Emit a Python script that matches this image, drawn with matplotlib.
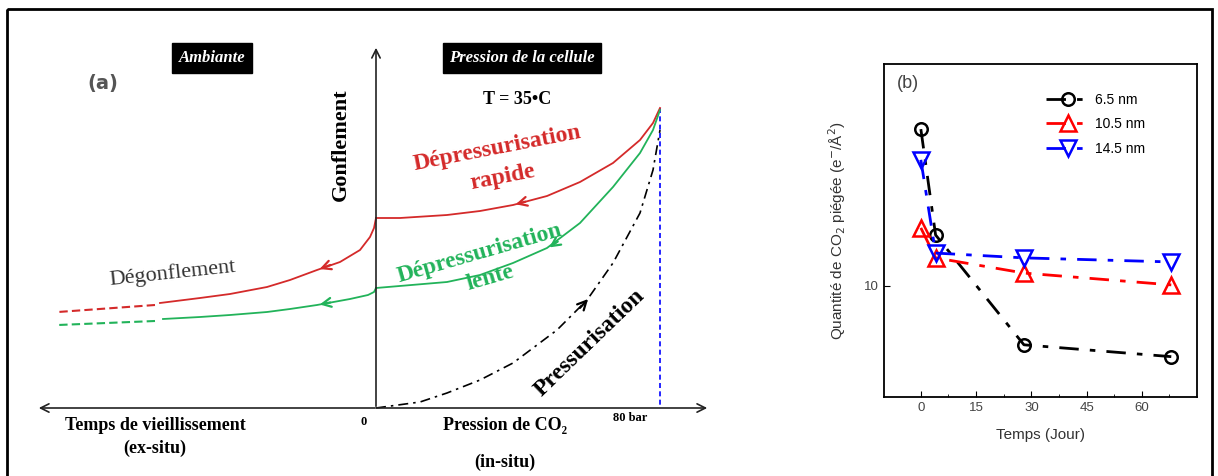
import numpy as np
import matplotlib
matplotlib.use('Agg')
import matplotlib.pyplot as plt
from matplotlib.patches import Rectangle

# ---- panel (b) data ----
days = [0, 4, 28, 68]
q_65 = [14.24, 11.38, 8.41, 8.09]
q_105 = [11.57, 10.76, 10.35, 10.03]
q_145 = [13.41, 10.89, 10.76, 10.65]
series_labels = ['6.5 nm', '10.5 nm', '14.5 nm']
x_ticks = [0, 15, 30, 45, 60]

# ---- panel (a) schematic curves (pixel units) ----
red_right_x = [376, 400, 447, 480, 513, 547, 580, 613, 640, 653, 660]
red_right_y = [218, 218, 215, 211, 205, 196, 182, 163, 140, 123, 108]
red_left_x = [376, 374, 370, 360, 340, 317, 290, 267, 230, 200, 160]
red_left_y = [218, 228, 237, 250, 262, 270, 280, 287, 294, 298, 303]
red_dash_x = [155, 58]
red_dash_y = [305, 312]

green_right_x = [376, 447, 480, 513, 547, 580, 613, 640, 653, 660]
green_right_y = [288, 282, 275, 263, 248, 223, 187, 153, 130, 110]
green_left_x = [376, 374, 368, 350, 317, 290, 267, 230, 200, 163]
green_left_y = [288, 292, 295, 299, 305, 309, 312, 315, 317, 319]
green_dash_x = [155, 58]
green_dash_y = [321, 325]

press_x = [376, 420, 447, 480, 513, 557, 587, 613, 640, 653, 660]
press_y = [408, 402, 393, 380, 363, 330, 300, 263, 213, 170, 130]

RED = '#d42a2a'
GREEN = '#22b35a'
serif = 'Liberation Serif'
sans = 'Liberation Sans'

fig = plt.figure(figsize=(12.18, 4.76), dpi=100)

# full-figure axes in pixel coordinates for the schematic
ax0 = fig.add_axes([0, 0, 1, 1])
ax0.set_xlim(0, 1218)
ax0.set_ylim(476, 0)
ax0.axis('off')

# outer frame
ax0.add_patch(Rectangle((7, 9), 1205, 470, fill=False, lw=2, ec='black'))

# axes of schematic
ax0.annotate('', xy=(376, 45), xytext=(376, 409),
             arrowprops=dict(arrowstyle='->', lw=1.2, color='#222222', mutation_scale=15))
ax0.annotate('', xy=(36, 408), xytext=(378, 408),
             arrowprops=dict(arrowstyle='->', lw=1.2, color='#222222', mutation_scale=15))
ax0.annotate('', xy=(710, 408), xytext=(374, 408),
             arrowprops=dict(arrowstyle='->', lw=1.2, color='#222222', mutation_scale=15))

# blue dashed vertical at 80 bar
ax0.plot([660, 660], [108, 408], color='blue', lw=1.2, ls=(0, (3, 2)))

# curves
ax0.plot(red_right_x, red_right_y, color=RED, lw=1.3)
ax0.plot(red_left_x, red_left_y, color=RED, lw=1.3)
ax0.plot(red_dash_x, red_dash_y, color=RED, lw=1.5, ls=(0, (4, 2)))
ax0.plot(green_right_x, green_right_y, color=GREEN, lw=1.3)
ax0.plot(green_left_x, green_left_y, color=GREEN, lw=1.3)
ax0.plot(green_dash_x, green_dash_y, color=GREEN, lw=1.5, ls=(0, (4, 2)))
ax0.plot(press_x, press_y, color='black', lw=1.2, ls=(0, (6, 3, 1.5, 3)))

# arrow heads along the curves
arrows = [((513, 205), (528, 201), RED), ((317, 270), (333, 264), RED),
          ((547, 249), (560, 240), GREEN), ((317, 305), (333, 302), GREEN),
          ((590, 297), (578, 310), 'black')]
for tip, tail, c in arrows:
    ax0.annotate('', xy=tip, xytext=tail,
                 arrowprops=dict(arrowstyle='->', lw=1.6, color=c, mutation_scale=16))

# labels of schematic
ax0.text(212, 58, 'Ambiante', color='white', fontsize=12, fontstyle='italic',
         fontweight='bold', family=serif, ha='center', va='center',
         bbox=dict(boxstyle='square,pad=0.4', fc='black', ec='black'))
ax0.text(522, 58, 'Pression de la cellule', color='white', fontsize=12,
         fontstyle='italic', fontweight='bold', family=serif, ha='center', va='center',
         bbox=dict(boxstyle='square,pad=0.4', fc='black', ec='black'))
ax0.text(103, 84, '(a)', color='#555555', fontsize=14, fontweight='bold',
         ha='center', va='center')
ax0.text(341, 145, 'Gonflement', rotation=90, fontsize=16, fontweight='bold',
         family=serif, ha='center', va='center')
ax0.text(517, 100, 'T = 35•C', fontsize=13, fontweight='bold', family=serif,
         ha='center', va='center')
ax0.text(497, 148, 'Dépressurisation', color=RED, fontsize=17, fontweight='bold',
         family=serif, ha='center', va='center', rotation=11, rotation_mode='anchor')
ax0.text(503, 177, 'rapide', color=RED, fontsize=17, fontweight='bold',
         family=serif, ha='center', va='center', rotation=11, rotation_mode='anchor')
ax0.text(480, 253, 'Dépressurisation', color=GREEN, fontsize=17, fontweight='bold',
         family=serif, ha='center', va='center', rotation=16, rotation_mode='anchor')
ax0.text(490, 278, 'lente', color=GREEN, fontsize=17, fontweight='bold',
         family=serif, ha='center', va='center', rotation=16, rotation_mode='anchor')
ax0.text(590, 343, 'Pressurisation', fontsize=17, fontweight='bold', family=serif,
         ha='center', va='center', rotation=44, rotation_mode='anchor')
ax0.text(173, 273, 'Dégonflement', color='#333333', fontsize=16, family=serif,
         ha='center', va='center', rotation=6, rotation_mode='anchor')
ax0.text(155, 425, 'Temps de vieillissement', fontsize=13, fontweight='bold',
         family=serif, ha='center', va='center')
ax0.text(155, 448, '(ex-situ)', fontsize=13, fontweight='bold', family=serif,
         ha='center', va='center')
ax0.text(364, 422, '0', fontsize=9, fontweight='bold', family=serif,
         ha='center', va='center')
ax0.text(505, 425, 'Pression de CO₂', fontsize=13, fontweight='bold',
         family=serif, ha='center', va='center')
ax0.text(630, 418, '80 bar', fontsize=9, fontweight='bold', family=serif,
         ha='center', va='center')
ax0.text(505, 462, '(in-situ)', fontsize=13, fontweight='bold', family=serif,
         ha='center', va='center')

# ---- panel (b) ----
ax = fig.add_axes([0.7258, 0.166, 0.257, 0.6995])
ls_dd = (0, (7, 4, 2, 4))
ax.plot(days, q_65, color='black', marker='o', mfc='none', mec='black', ms=9,
        mew=1.8, lw=2, ls=ls_dd, label=series_labels[0])
ax.plot(days, q_105, color='red', marker='^', mfc='none', mec='red', ms=11,
        mew=1.8, lw=2, ls=ls_dd, label=series_labels[1])
ax.plot(days, q_145, color='blue', marker='v', mfc='none', mec='blue', ms=11,
        mew=1.8, lw=2, ls=ls_dd, label=series_labels[2])
ax.set_xlim(-10, 75)
ax.set_ylim(7, 16)
ax.set_xticks(x_ticks)
ax.set_xticks([7.5, 22.5, 37.5, 52.5, 67.5], minor=True)
ax.set_yticks([10])
ax.tick_params(direction='in', labelsize=9.5, labelcolor='#444444', length=4)
ax.tick_params(which='minor', direction='in', length=2)
for lab in ax.get_xticklabels() + ax.get_yticklabels():
    lab.set_family(sans)
for sp in ax.spines.values():
    sp.set_linewidth(1.3)
ax.set_xlabel('Temps (Jour)', fontsize=11, color='#333333', labelpad=10,
              family=sans)
ax.set_ylabel('Quantité de CO$_2$ piégée (e$^{-}$/Å$^2$)', fontsize=11,
              color='#333333', labelpad=12, family=sans)
ax.text(0.075, 0.94, '(b)', transform=ax.transAxes, fontsize=13, color='#444444',
        ha='center', va='center', family=sans)
leg = ax.legend(loc='upper left', frameon=False, fontsize=10, handlelength=3.2,
                bbox_to_anchor=(0.5, 0.93), labelspacing=0.75, handletextpad=0.3,
                borderaxespad=0)
for t in leg.get_texts():
    t.set_family(sans)

fig.savefig('out.png', dpi=100)
